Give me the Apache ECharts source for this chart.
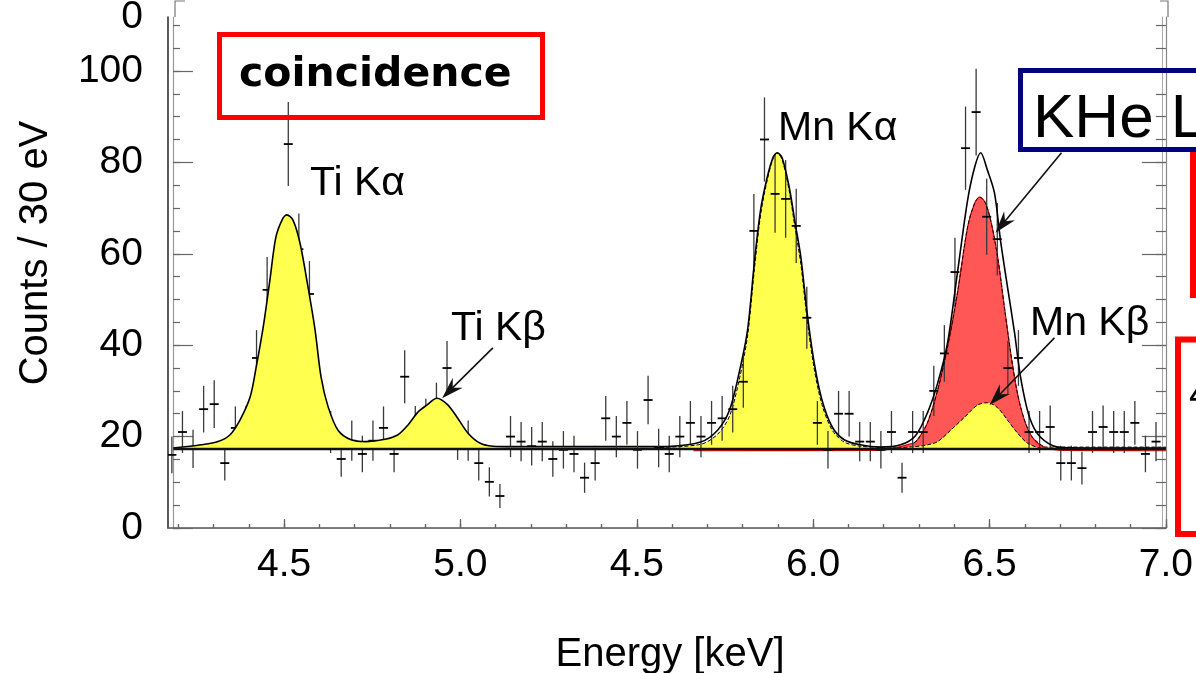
<!DOCTYPE html>
<html><head><meta charset="utf-8">
<script src="https://cdn.jsdelivr.net/npm/echarts@6/dist/echarts.min.js"></script>
<style>html,body{margin:0;padding:0;background:#fff}#c{width:1196px;height:673px}</style>
</head><body><div id="c"></div>
<script>
// ---------------- data ----------------
const energies = [4.182,4.212,4.242,4.272,4.302,4.332,4.362,4.392,4.422,4.452,4.482,4.512,4.542,4.572,4.602,4.632,4.662,4.692,4.722,4.752,4.782,4.812,4.842,4.872,4.902,4.932,4.962,4.992,5.022,5.052,5.082,5.112,5.142,5.172,5.202,5.232,5.262,5.292,5.322,5.352,5.382,5.412,5.442,5.472,5.502,5.532,5.562,5.592,5.622,5.652,5.682,5.712,5.742,5.772,5.802,5.832,5.862,5.892,5.922,5.952,5.982,6.012,6.042,6.072,6.102,6.132,6.162,6.192,6.222,6.252,6.282,6.312,6.342,6.372,6.402,6.432,6.462,6.492,6.522,6.552,6.582,6.612,6.642,6.672,6.702,6.732,6.762,6.792,6.822,6.852,6.882,6.912,6.942,6.972];
const counts = [16.0,21.0,17.3,26.0,27.1,14.2,21.9,22,37.2,52.1,56,84.0,61.0,51.2,26,21.0,15.1,19.1,16.2,19.1,21.9,16.2,33.1,22,23.5,26.6,35.0,19.3,19.1,14.2,10.1,7.0,20.0,18.9,17.9,18.9,15.1,17.1,16.2,11.0,14.2,24.0,20.0,23.0,17.1,28.0,17.5,16.2,20.0,23.0,20.0,23.0,24.0,26.0,32.0,65.0,85.0,73.1,72.0,66.1,46.0,23.0,17.1,25.0,25.0,18.9,18.9,17.1,21.0,11.0,21.0,21.0,30.0,38.2,56.0,83.1,91.0,68.1,63.2,35.0,37.2,21.0,21.0,22.1,14.2,14.2,13.1,21.0,22.1,21.0,21.0,23.0,16.2,18.9];
const errors = [4.0,4.6,4.2,5.1,5.2,3.8,4.7,4.7,6.1,7.2,7.5,9.2,7.8,7.2,5.1,4.6,3.9,4.4,4.0,4.4,4.7,4.0,5.8,4.7,4.8,5.2,5.9,4.4,4.4,3.8,3.2,2.6,4.5,4.3,4.2,4.3,3.9,4.1,4.0,3.3,3.8,4.9,4.5,4.8,4.1,5.3,4.2,4.0,4.5,4.8,4.5,4.8,4.9,5.1,5.7,8.1,9.2,8.5,8.5,8.1,6.8,4.8,4.1,5.0,5.0,4.3,4.3,4.1,4.6,3.3,4.6,4.6,5.5,6.2,7.5,9.1,9.5,8.3,7.9,5.9,6.1,4.6,4.6,4.7,3.8,3.8,3.6,4.6,4.7,4.6,4.6,4.8,4.0,4.3];
// below this energy the data are drawn beneath the Ti fills; above it they are drawn on top
const DATA_SPLIT_E = 5.4;

const BASELINE = 17.3;
const baselineRange = [4.186, 7.0];

// total fit (solid black)
const fitTotal = [[4.186,17.5],[4.265,18.2],[4.313,18.9],[4.347,20.4],[4.375,23.6],[4.404,28.7],[4.421,35.2],[4.441,44.0],[4.460,54.3],[4.477,63.7],[4.497,67.8],[4.508,68.5],[4.525,67.4],[4.545,62.4],[4.568,52.7],[4.588,43.3],[4.605,33.0],[4.625,26.5],[4.653,21.4],[4.690,19.3],[4.732,18.9],[4.786,19.4],[4.823,20.4],[4.851,22.5],[4.880,25.4],[4.905,26.9],[4.933,28.4],[4.962,27.1],[4.990,24.3],[5.021,20.8],[5.055,18.6],[5.092,17.9],[5.149,17.8],[5.35,17.8],[5.588,17.8],[5.681,18.8],[5.729,21.4],[5.763,25.8],[5.792,34.6],[5.814,43.3],[5.834,58.6],[5.851,69.6],[5.870,76.8],[5.887,81.2],[5.898,82.1],[5.912,81.0],[5.932,74.6],[5.949,66.7],[5.965,59.3],[5.983,47.0],[6.003,36.1],[6.025,28.0],[6.054,22.1],[6.088,19.3],[6.133,18.2],[6.190,17.7],[6.248,18.2],[6.29,20.2],[6.324,25.2],[6.353,31.7],[6.381,40.5],[6.409,55.8],[6.438,71.8],[6.458,79.0],[6.475,82.1],[6.494,78.3],[6.514,73.3],[6.531,63.0],[6.551,52.7],[6.571,42.7],[6.588,33.0],[6.613,24.3],[6.644,19.9],[6.693,17.7],[6.769,17.5],[7.0,17.5]];
// Mn K-alpha component (yellow, dashed)
const fitMnKa = [[5.55,17.6],[5.681,18.3],[5.729,20.5],[5.763,24.5],[5.792,33.0],[5.814,42.0],[5.834,57.0],[5.851,68.5],[5.870,76.2],[5.887,81.0],[5.898,82.0],[5.912,80.6],[5.932,73.8],[5.949,65.5],[5.965,57.8],[5.983,45.5],[6.003,34.8],[6.025,27.0],[6.054,21.4],[6.088,18.8],[6.133,17.9],[6.190,17.7],[6.30,17.7],[7.0,17.7]];
// KHe L component (red)
const fitKHe = [[5.661,16.9],[6.188,17.0],[6.285,18.6],[6.296,19.3],[6.324,23.0],[6.353,30.2],[6.381,39.6],[6.409,51.4],[6.438,65.9],[6.458,71.1],[6.472,72.4],[6.487,71.3],[6.503,67.4],[6.523,59.3],[6.542,48.4],[6.560,38.3],[6.579,29.5],[6.599,23.6],[6.621,19.9],[6.655,17.7],[6.712,17.0],[7.0,16.9]];
// Mn K-beta component (yellow)
const fitMnKb = [[6.188,17.3],[6.288,17.8],[6.324,18.2],[6.353,18.9],[6.390,21.4],[6.430,24.3],[6.466,26.9],[6.494,27.4],[6.523,26.3],[6.551,23.6],[6.579,20.8],[6.607,18.6],[6.644,17.5],[6.698,17.3]];

const xTickValues = [4.5,5.0,5.5,6.0,6.5,7.0];
const xTickLabels = ['4.5','5.0','4.5','6.0','6.5','7.0'];
const xMinorTicks = [4.2,4.3,4.4,4.5,4.6,4.7,4.8,4.9,5.0,5.1,5.2,5.3,5.4,5.5,5.6,5.7,5.8,5.9,6.0,6.1,6.2,6.3,6.4,6.5,6.6,6.7,6.8,6.9,7.0];
const yTickValues = [0,20,40,60,80,100];
const yTickLabels = ['0','20','40','60','80','100'];
const yMinorTicks = [0,5,10,15,20,25,30,35,40,45,50,55,60,65,70,75,80,85,90,95,100,105,110];
const X_MIN = 4.171, X_MAX = 7.0, Y_MIN = 0, Y_MAX = 111.8;

// annotation arrows in data space: [fromE, fromCounts, toE, toCounts]
const arrows = [[5.092,39.4,4.948,28.4],[6.704,82.1,6.517,64.6],[6.684,41.6,6.500,26.9]];

// ---------------- chart ----------------
const FONT = '"Liberation Sans", Arial, Helvetica, sans-serif';
const chart = echarts.init(document.getElementById('c'), null, {renderer:'canvas'});

function xAx(pos, opts) {
  return Object.assign({type:'value', position:pos, min:X_MIN, max:X_MAX, gridIndex:0,
    splitLine:{show:false}, axisLabel:{show:false}, axisLine:{show:false}, axisTick:{show:false}}, opts);
}
function yAx(pos, opts) {
  return Object.assign({type:'value', position:pos, min:Y_MIN, max:Y_MAX, gridIndex:0,
    splitLine:{show:false}, axisLabel:{show:false}, axisLine:{show:false}, axisTick:{show:false}}, opts);
}
const tickStyle = {color:'#666', width:1.2};

function renderErr(params, api) {
  const x = api.value(0), y = api.value(1), e = api.value(2);
  const c = api.coord([x, y]), t = api.coord([x, y + e]), b = api.coord([x, y - e]);
  return {type:'group', children:[
    {type:'line', shape:{x1:c[0], y1:t[1], x2:c[0], y2:b[1]}, style:{stroke:'#3a3a3a', lineWidth:1.3}},
    {type:'line', shape:{x1:c[0]-4.5, y1:c[1], x2:c[0]+4.5, y2:c[1]}, style:{stroke:'#000', lineWidth:1.8}}
  ]};
}
function renderArrow(params, api) {
  const p1 = api.coord([api.value(0), api.value(1)]);
  const p2 = api.coord([api.value(2), api.value(3)]);
  const dx = p2[0]-p1[0], dy = p2[1]-p1[1], len = Math.hypot(dx, dy);
  const ux = dx/len, uy = dy/len, nx = -uy, ny = ux;
  const L = 22, W = 14;
  const head = [
    [p2[0], p2[1]],
    [p2[0]-ux*L+nx*W/2, p2[1]-uy*L+ny*W/2],
    [p2[0]-ux*L*0.68, p2[1]-uy*L*0.68],
    [p2[0]-ux*L-nx*W/2, p2[1]-uy*L-ny*W/2]
  ];
  return {type:'group', children:[
    {type:'line', shape:{x1:p1[0], y1:p1[1], x2:p2[0]-ux*L*0.6, y2:p2[1]-uy*L*0.6}, style:{stroke:'#111', lineWidth:1.6}},
    {type:'polygon', shape:{points:head}, style:{fill:'#111'}}
  ]};
}

function txt(text, x, baseline, size, opts) {
  opts = opts || {};
  return {type:'text', x:x, y:baseline - 0.35*size, z:100, rotation: opts.rotation || 0,
    style:{text:text, font:(opts.bold?'bold ':'') + size + 'px ' + (opts.family || FONT), fill:'#000',
      align:opts.align || 'left', verticalAlign:'middle'}};
}

const yellow = '#ffff4f';
const red = '#ff5656';
const dataRows = energies.map((e, i) => [e, counts[i], errors[i]]);

const option = {
  animation:false,
  backgroundColor:'#fff',
  grid:{left:168, right:30, top:17, bottom:145, containLabel:false},
  xAxis:[
    xAx('bottom', {axisLine:{show:true, lineStyle:{color:'#555', width:1.6}},
      axisTick:{show:true, inside:true, length:9, lineStyle:tickStyle, customValues:xTickValues},
      axisLabel:{show:true, customValues:xTickValues, margin:18, color:'#000', fontSize:39, fontFamily:FONT,
        formatter:function(v){ const i = xTickValues.findIndex(t => Math.abs(t - v) < 1e-6); return i >= 0 ? xTickLabels[i] : ''; }}}),
    xAx('bottom', {axisTick:{show:true, inside:true, length:4, lineStyle:tickStyle, customValues:xMinorTicks}}),
    xAx('top', {axisLine:{show:true, lineStyle:{color:'#777', width:1.2}},
      axisTick:{show:true, inside:false, length:8, lineStyle:tickStyle, customValues:xTickValues}}),
    xAx('top', {axisTick:{show:true, inside:false, length:4, lineStyle:tickStyle, customValues:xMinorTicks}})
  ],
  yAxis:[
    yAx('left', {axisLine:{show:true, lineStyle:{color:'#333', width:1.6}},
      axisLabel:{show:true, customValues:yTickValues, margin:25, color:'#000', fontSize:39, fontFamily:FONT,
        formatter:function(v){ const i = yTickValues.indexOf(v); return i >= 0 ? yTickLabels[i] : ''; }}}),
    yAx('left', {offset:-5, axisLine:{show:true, lineStyle:{color:'#999', width:1.2}},
      axisTick:{show:true, inside:true, length:20, lineStyle:tickStyle, customValues:yTickValues}}),
    yAx('left', {offset:-5, axisTick:{show:true, inside:true, length:7, lineStyle:tickStyle, customValues:yMinorTicks}}),
    yAx('right', {axisLine:{show:true, lineStyle:{color:'#888', width:1.2}},
      axisTick:{show:true, inside:true, length:24, lineStyle:tickStyle, customValues:yTickValues}}),
    yAx('right', {axisTick:{show:true, inside:true, length:10, lineStyle:tickStyle, customValues:yMinorTicks}}),
    yAx('right', {offset:-4, axisLine:{show:true, lineStyle:{color:'#aaa', width:1}}})
  ],
  series:[
    {type:'custom', name:'data (Ti region)', renderItem:renderErr, clip:true, z:1,
      data: dataRows.filter(d => d[0] < DATA_SPLIT_E), encode:{x:0, y:1}},
    {type:'line', name:'Ti', data: fitTotal.filter(p => p[0] <= 5.6), smooth:0.3, showSymbol:false, z:2,
      lineStyle:{color:'#000', width:1.6}, areaStyle:{color:yellow, opacity:1, origin:BASELINE}},
    {type:'line', name:'MnKa', data: fitMnKa, smooth:0.3, showSymbol:false, z:2,
      lineStyle:{color:'#000', width:1, type:[4,2]}, areaStyle:{color:yellow, opacity:1, origin:BASELINE}},
    {type:'line', name:'KHe', data: fitKHe, smooth:0.3, showSymbol:false, z:3,
      lineStyle:{color:'#e00000', width:1.2}, areaStyle:{color:red, opacity:1, origin:BASELINE}},
    {type:'line', name:'MnKb', data: fitMnKb, smooth:0.3, showSymbol:false, z:4,
      lineStyle:{color:'#000', width:1, type:[4,2]}, areaStyle:{color:yellow, opacity:1, origin:BASELINE}},
    {type:'custom', name:'data (Mn region)', renderItem:renderErr, clip:true, z:4.5,
      data: dataRows.filter(d => d[0] >= DATA_SPLIT_E), encode:{x:0, y:1}},
    {type:'line', name:'KHeDash', data: fitKHe.filter(p => p[0] >= 6.25 && p[0] <= 6.7), smooth:0.3, showSymbol:false, z:5,
      lineStyle:{color:'#000', width:1, type:[4,2]}},
    {type:'line', name:'total', data: fitTotal.filter(p => p[0] >= 5.55), smooth:0.3, showSymbol:false, z:6,
      lineStyle:{color:'#000', width:1.6}},
    {type:'line', name:'baseline', data: baselineRange.map(e => [e, BASELINE]), showSymbol:false, z:7,
      lineStyle:{color:'#111', width:2.6}},
    {type:'custom', name:'arrows', renderItem:renderArrow, clip:false, z:8, data: arrows, encode:{x:[0,2], y:[1,3]}}
  ],
  graphic:[
    {type:'polyline', z:100, shape:{points:[[185,1],[175,1],[175,17]]}, style:{stroke:'#777', lineWidth:1.2, fill:'none'}},
    {type:'polyline', z:100, shape:{points:[[1160,1],[1168,1],[1168,17]]}, style:{stroke:'#777', lineWidth:1.2, fill:'none'}},
    txt('0', 143, 31, 39, {align:'right'}),
    {type:'text', x:36, y:253, rotation:Math.PI/2, z:100,
      style:{text:'Counts / 30 eV', font:'40px ' + FONT, fill:'#000', align:'center', verticalAlign:'middle'}},
    {type:'text', x:670, y:655, z:100,
      style:{text:'Energy [keV]', font:'40px ' + FONT, fill:'#000', align:'center', verticalAlign:'middle'}},
    {type:'rect', z:100, shape:{x:219.5, y:34.5, width:323, height:83}, style:{fill:'none', stroke:'#ff0000', lineWidth:5}},
    txt('coincidence', 239, 90, 41, {bold:true, family:'"DejaVu Sans", "Liberation Sans", sans-serif'}),
    {type:'rect', z:100, shape:{x:1020.5, y:70.5, width:300, height:79}, style:{fill:'none', stroke:'#000080', lineWidth:5}},
    txt('KHe L', 1033, 142, 62),
    {type:'polyline', z:100, shape:{points:[[1193,152],[1193,295],[1220,295]]}, style:{stroke:'#ff0000', lineWidth:6, fill:'none'}},
    {type:'polyline', z:100, shape:{points:[[1220,339.5],[1178,339.5],[1178,534],[1220,534]]}, style:{stroke:'#ff0000', lineWidth:6, fill:'none'}},
    txt('4', 1189, 410, 40),
    txt('Ti K\u03b1', 310, 198, 41),
    txt('Ti K\u03b2', 451, 343, 41),
    txt('Mn K\u03b1', 778, 143, 41),
    txt('Mn K\u03b2', 1030, 338, 41)
  ]
};
chart.setOption(option);
</script></body></html>
